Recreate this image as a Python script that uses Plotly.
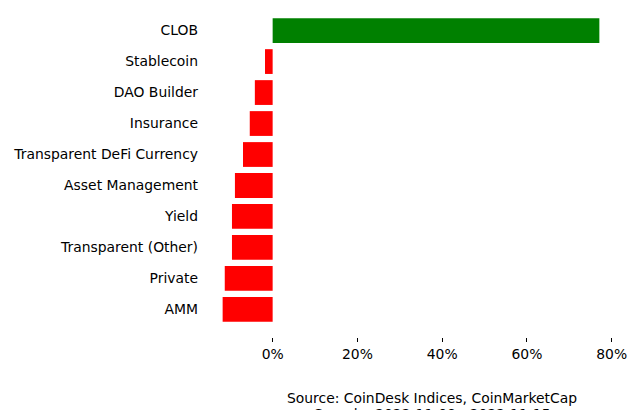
import plotly.graph_objects as go

categories = ["CLOB", "Stablecoin", "DAO Builder", "Insurance", "Transparent DeFi Currency",
              "Asset Management", "Yield", "Transparent (Other)", "Private", "AMM"]
returns_pct = [77.1, -1.8, -4.2, -5.4, -7.0, -8.9, -9.6, -9.6, -11.3, -11.8]
x_ticks = [0, 20, 40, 60, 80]
x_tick_labels = ["0%", "20%", "40%", "60%", "80%"]
source_lines = ["Source: CoinDesk Indices, CoinMarketCap", "Sample: 2022-11-08 - 2022-11-15"]

colors = ["#008000" if v >= 0 else "#ff0000" for v in returns_pct]

fig = go.Figure(go.Bar(
    x=returns_pct, y=categories, orientation="h",
    marker=dict(color=colors, line=dict(width=0)), width=0.8,
))

font_family = "DejaVu Sans"
fig.update_layout(
    width=640, height=410,
    margin=dict(l=204, r=22, t=3, b=73),
    plot_bgcolor="white", paper_bgcolor="white",
    font=dict(family=font_family, size=13.9, color="black"),
    showlegend=False,
    xaxis=dict(range=[-16.2, 81.5], tickvals=x_ticks, ticktext=x_tick_labels,
               showgrid=False, zeroline=False, showline=False, automargin=False,
               ticks="outside", ticklen=4, tickwidth=1, tickcolor="black"),
    yaxis=dict(type="category", range=[9.89, -0.89], showgrid=False, zeroline=False,
               showline=False, ticks="", ticklabelstandoff=5, automargin=False),
)

fig.add_annotation(text=source_lines[0], xref="paper", yref="paper",
                   x=0.551, y=-0.182, xanchor="center", yanchor="middle",
                   showarrow=False, font=dict(size=13.9))
fig.add_annotation(text=source_lines[1], xref="paper", yref="paper",
                   x=0.551, y=-0.230, xanchor="center", yanchor="middle",
                   showarrow=False, font=dict(size=13.9))

fig.write_html("out.html", config={"displayModeBar": False},
               post_script="document.body.style.margin='0';document.body.style.overflow='hidden';")
